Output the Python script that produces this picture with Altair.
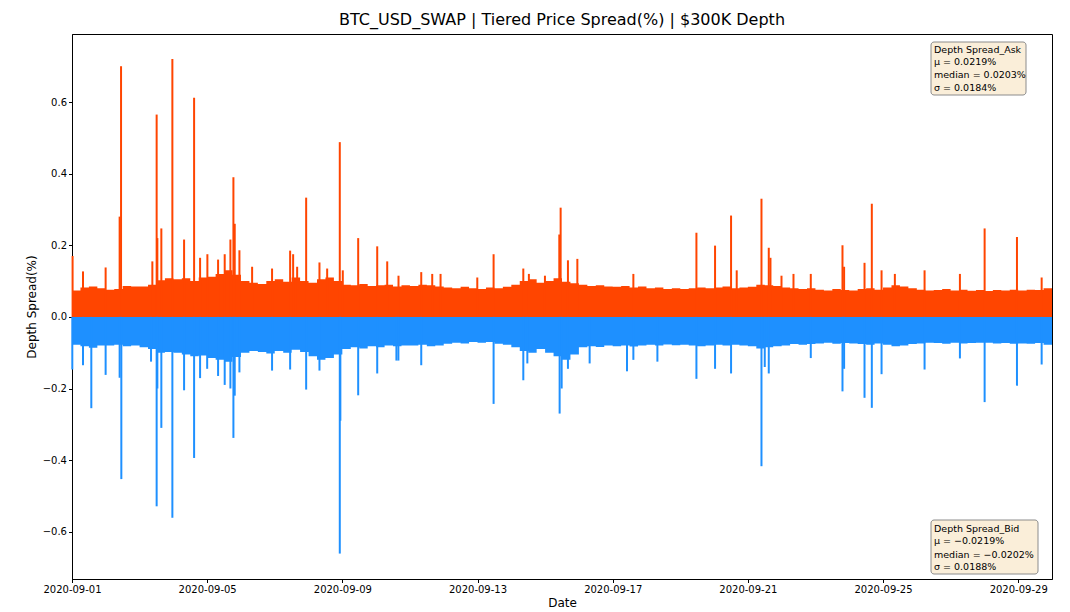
import altair as alt
import pandas as pd

ASK_COLOR = "#FF4500"
BID_COLOR = "#1E90FF"

# 6-hour envelope of the dense band (4 values per day, 2020-09-01 .. 2020-09-29)
ask_env = [
    .074, .082, .085, .080,  .076, .078, .086, .085,  .085, .090, .102, .108,
    .105, .108, .100, .110,  .112, .120, .130, .118,  .100, .095, .092, .100,
    .105, .098, .110, .100,  .095, .105, .110, .100,  .090, .088, .092, .086,
    .088, .090, .085, .088,  .086, .090, .088, .085,  .082, .080, .084, .080,
    .078, .082, .080, .084,  .090, .100, .105, .095,  .100, .108, .098, .094,
    .090, .086, .088, .085,  .084, .086, .082, .085,  .080, .082, .078, .080,
    .078, .080, .082, .080,  .082, .085, .080, .082,  .084, .090, .088, .086,
    .082, .080, .078, .080,  .076, .074, .078, .075,  .074, .078, .080, .076,
    .082, .088, .085, .080,  .076, .074, .075, .078,  .074, .076, .073, .075,
    .072, .075, .074, .076,  .074, .076, .075, .080,
]
bid_env = [
    -.078, -.082, -.086, -.080,  -.080, -.078, -.082, -.080,  -.085, -.090, -.100, -.098,
    -.100, -.105, -.110, -.108,  -.115, -.120, -.125, -.112,  -.100, -.095, -.098, -.102,
    -.095, -.100, -.092, -.098,  -.110, -.120, -.115, -.105,  -.090, -.085, -.088, -.082,
    -.085, -.080, -.082, -.080,  -.080, -.078, -.082, -.080,  -.075, -.072, -.074, -.070,
    -.072, -.070, -.075, -.078,  -.085, -.095, -.100, -.090,  -.100, -.110, -.120, -.105,
    -.085, -.082, -.084, -.080,  -.082, -.080, -.083, -.080,  -.078, -.080, -.077, -.079,
    -.078, -.080, -.082, -.080,  -.078, -.080, -.078, -.080,  -.082, -.088, -.085, -.082,
    -.080, -.076, -.078, -.076,  -.074, -.072, -.075, -.073,  -.074, -.076, -.078, -.074,
    -.078, -.082, -.080, -.076,  -.074, -.072, -.073, -.075,  -.072, -.074, -.073, -.072,
    -.072, -.074, -.073, -.075,  -.074, -.075, -.073, -.078,
]

ask_spike_times = [
    "2020-09-01 00:25", "2020-09-01 07:49", "2020-09-01 23:53", "2020-09-02 09:50",
    "2020-09-02 10:50", "2020-09-03 09:04", "2020-09-03 12:07", "2020-09-03 12:37",
    "2020-09-03 15:27", "2020-09-03 23:17", "2020-09-04 07:36", "2020-09-04 14:43",
    "2020-09-04 18:58", "2020-09-05 00:09", "2020-09-05 07:45", "2020-09-05 12:27",
    "2020-09-05 16:30", "2020-09-05 18:38", "2020-09-05 19:34", "2020-09-05 22:54",
    "2020-09-06 07:55", "2020-09-06 22:05", "2020-09-07 10:55", "2020-09-07 13:03",
    "2020-09-07 15:54", "2020-09-07 22:18", "2020-09-08 07:45", "2020-09-08 13:13",
    "2020-09-08 22:11", "2020-09-09 00:19", "2020-09-09 11:15", "2020-09-10 00:46",
    "2020-09-10 07:52", "2020-09-10 15:53", "2020-09-11 08:02", "2020-09-11 15:50",
    "2020-09-11 21:45", "2020-09-12 23:50", "2020-09-13 11:25", "2020-09-14 08:31",
    "2020-09-14 12:29", "2020-09-14 23:53", "2020-09-15 10:05", "2020-09-15 11:02",
    "2020-09-15 16:13", "2020-09-15 22:54", "2020-09-17 14:41", "2020-09-19 11:28",
    "2020-09-20 00:42", "2020-09-20 12:04", "2020-09-20 16:05", "2020-09-21 09:40",
    "2020-09-21 14:51", "2020-09-21 16:03", "2020-09-21 23:53", "2020-09-22 08:24",
    "2020-09-22 20:41", "2020-09-23 19:12", "2020-09-23 20:21", "2020-09-24 10:51",
    "2020-09-24 16:02", "2020-09-24 22:57", "2020-09-25 08:24", "2020-09-26 05:30",
    "2020-09-27 06:36", "2020-09-28 00:09", "2020-09-28 23:07", "2020-09-29 16:39",
]
ask_spike_values = [
    0.170, 0.127, 0.138, 0.280,
    0.700, 0.155, 0.565, 0.220,
    0.247, 0.720, 0.216, 0.612,
    0.165, 0.175, 0.160, 0.175,
    0.216, 0.390, 0.260, 0.186,
    0.140, 0.135, 0.185, 0.175,
    0.140, 0.333, 0.152, 0.135,
    0.488, 0.130, 0.220, 0.197,
    0.155, 0.115, 0.125, 0.120,
    0.120, 0.110, 0.175, 0.135,
    0.120, 0.115, 0.230, 0.305,
    0.158, 0.162, 0.120, 0.235,
    0.199, 0.283, 0.130, 0.330,
    0.193, 0.165, 0.115, 0.120,
    0.120, 0.200, 0.140, 0.151,
    0.316, 0.130, 0.120, 0.130,
    0.120, 0.247, 0.223, 0.110,
]

bid_spike_times = [
    "2020-09-01 00:13", "2020-09-01 07:49", "2020-09-01 13:43", "2020-09-01 23:53",
    "2020-09-02 09:50", "2020-09-02 11:02", "2020-09-03 08:08", "2020-09-03 12:07",
    "2020-09-03 12:37", "2020-09-03 15:27", "2020-09-03 23:17", "2020-09-04 07:36",
    "2020-09-04 14:43", "2020-09-04 18:58", "2020-09-05 00:00", "2020-09-05 07:45",
    "2020-09-05 12:27", "2020-09-05 16:30", "2020-09-05 18:38", "2020-09-05 19:34",
    "2020-09-05 22:54", "2020-09-06 22:05", "2020-09-07 10:55", "2020-09-07 22:18",
    "2020-09-08 07:45", "2020-09-08 22:11", "2020-09-08 22:35", "2020-09-09 11:15",
    "2020-09-10 00:46", "2020-09-10 14:24", "2020-09-10 15:48", "2020-09-11 08:02",
    "2020-09-13 11:25", "2020-09-14 08:31", "2020-09-14 11:23", "2020-09-15 10:19",
    "2020-09-15 11:45", "2020-09-15 16:13", "2020-09-16 07:38", "2020-09-17 10:09",
    "2020-09-17 14:41", "2020-09-18 07:45", "2020-09-19 11:28", "2020-09-20 00:42",
    "2020-09-20 12:04", "2020-09-21 09:40", "2020-09-21 12:00", "2020-09-21 14:51",
    "2020-09-22 20:41", "2020-09-23 19:12", "2020-09-23 20:21", "2020-09-24 10:51",
    "2020-09-24 16:02", "2020-09-24 22:57", "2020-09-26 05:30", "2020-09-27 06:36",
    "2020-09-28 00:09", "2020-09-28 23:07", "2020-09-29 16:39",
]
bid_spike_values = [
    -0.147, -0.135, -0.255, -0.162,
    -0.170, -0.453, -0.125, -0.529,
    -0.200, -0.310, -0.561, -0.205,
    -0.394, -0.171, -0.145, -0.165,
    -0.190, -0.200, -0.338, -0.220,
    -0.155, -0.150, -0.147, -0.203,
    -0.150, -0.661, -0.290, -0.219,
    -0.158, -0.122, -0.122, -0.135,
    -0.243, -0.177, -0.130, -0.270,
    -0.200, -0.145, -0.130, -0.152,
    -0.120, -0.125, -0.173, -0.145,
    -0.158, -0.417, -0.140, -0.158,
    -0.115, -0.208, -0.145, -0.226,
    -0.254, -0.160, -0.147, -0.116,
    -0.238, -0.192, -0.133,
]

x_tick_dates = ["2020-09-01", "2020-09-05", "2020-09-09", "2020-09-13",
                "2020-09-17", "2020-09-21", "2020-09-25", "2020-09-29"]
y_ticks = [-0.6, -0.4, -0.2, 0.0, 0.2, 0.4, 0.6]

ask_box_lines = ["Depth Spread_Ask", "\u03bc = 0.0219%", "median = 0.0203%", "\u03c3 = 0.0184%"]
bid_box_lines = ["Depth Spread_Bid", "\u03bc =  \u22120.0219%", "median =  \u22120.0202%", "\u03c3 = 0.0188%"]


def ms(s):
    return int(pd.Timestamp(s, tz="UTC").value // 10**6)


START = ms("2020-09-01")
END = ms("2020-09-30")
STEP = 6 * 3600 * 1000

env_t = [START + i * STEP for i in range(len(ask_env))] + [END]
ask_env_df = pd.DataFrame({"t": env_t, "v": ask_env + [ask_env[-1]]})
bid_env_df = pd.DataFrame({"t": env_t, "v": bid_env + [bid_env[-1]]})
ask_sp_df = pd.DataFrame({"t": [ms(s) for s in ask_spike_times], "v": ask_spike_values})
bid_sp_df = pd.DataFrame({"t": [ms(s) for s in bid_spike_times], "v": bid_spike_values})

W, H = 980, 545

x_enc = alt.X(
    "t:T",
    scale=alt.Scale(type="utc", domain=[START, END], nice=False),
    axis=alt.Axis(
        values=[ms(d) for d in x_tick_dates],
        labelExpr="utcFormat(datum.value, '%Y-%m-%d')",
        title="Date",
        grid=False,
        labelFlush=False,
        labelOverlap=False,
        titlePadding=3,
    ),
)
y_enc = alt.Y(
    "v:Q",
    scale=alt.Scale(domain=[-0.732, 0.79], nice=False, zero=False),
    axis=alt.Axis(values=y_ticks, format=".1f", title="Depth Spread(%)", grid=False,
                  labelFlush=False, labelOverlap=False),
)

ask_area = alt.Chart(ask_env_df).mark_area(
    interpolate="step-after", color=ASK_COLOR
).encode(x=x_enc, y=y_enc, y2=alt.datum(0))
bid_area = alt.Chart(bid_env_df).mark_area(
    interpolate="step-after", color=BID_COLOR
).encode(x=x_enc, y=y_enc, y2=alt.datum(0))
ask_rules = alt.Chart(ask_sp_df).mark_rule(color=ASK_COLOR, strokeWidth=2).encode(
    x=x_enc, y=y_enc, y2=alt.datum(0)
)
bid_rules = alt.Chart(bid_sp_df).mark_rule(color=BID_COLOR, strokeWidth=2).encode(
    x=x_enc, y=y_enc, y2=alt.datum(0)
)

one = pd.DataFrame({"a": [0]})
BOX_FILL = "#FAEED9"
BOX_STROKE = "#8C8C8C"
ask_box = alt.Chart(one).mark_rect(
    fill=BOX_FILL, stroke=BOX_STROKE, strokeWidth=1, cornerRadius=3
).encode(x=alt.value(859), x2=alt.value(954), y=alt.value(8), y2=alt.value(61))
bid_box = alt.Chart(one).mark_rect(
    fill=BOX_FILL, stroke=BOX_STROKE, strokeWidth=1, cornerRadius=3
).encode(x=alt.value(859), x2=alt.value(966), y=alt.value(486), y2=alt.value(540))

text_layers = []
for lines, ys in ((ask_box_lines, [15.7, 28, 41, 53.5]),
                  (bid_box_lines, [495, 507, 520.7, 533])):
    for line, yy in zip(lines, ys):
        text_layers.append(
            alt.Chart(one).mark_text(
                text=line, align="left", baseline="middle", fontSize=9.5,
                font="DejaVu Sans", color="black",
            ).encode(x=alt.value(862), y=alt.value(yy))
        )

chart = alt.layer(
    ask_area, ask_rules, bid_area, bid_rules, ask_box, bid_box, *text_layers
).properties(
    width=W,
    height=H,
    title=alt.TitleParams(
        "BTC_USD_SWAP | Tiered Price Spread(%) | $300K Depth",
        font="DejaVu Sans", fontSize=16, fontWeight="normal", color="black",
        anchor="middle", offset=6,
    ),
    autosize=alt.AutoSizeParams(type="none"),
    padding={"left": 64, "top": 26, "right": 10, "bottom": 36},
).configure_view(
    stroke="black", strokeWidth=1
).configure_axis(
    labelFont="DejaVu Sans", labelFontSize=10, labelColor="black",
    titleFont="DejaVu Sans", titleFontSize=12, titleFontWeight="normal", titleColor="black",
    tickColor="black", domainColor="black", tickSize=3.5, labelPadding=2,
)

chart.save("out.html", embed_options={"renderer": "svg", "actions": False})
